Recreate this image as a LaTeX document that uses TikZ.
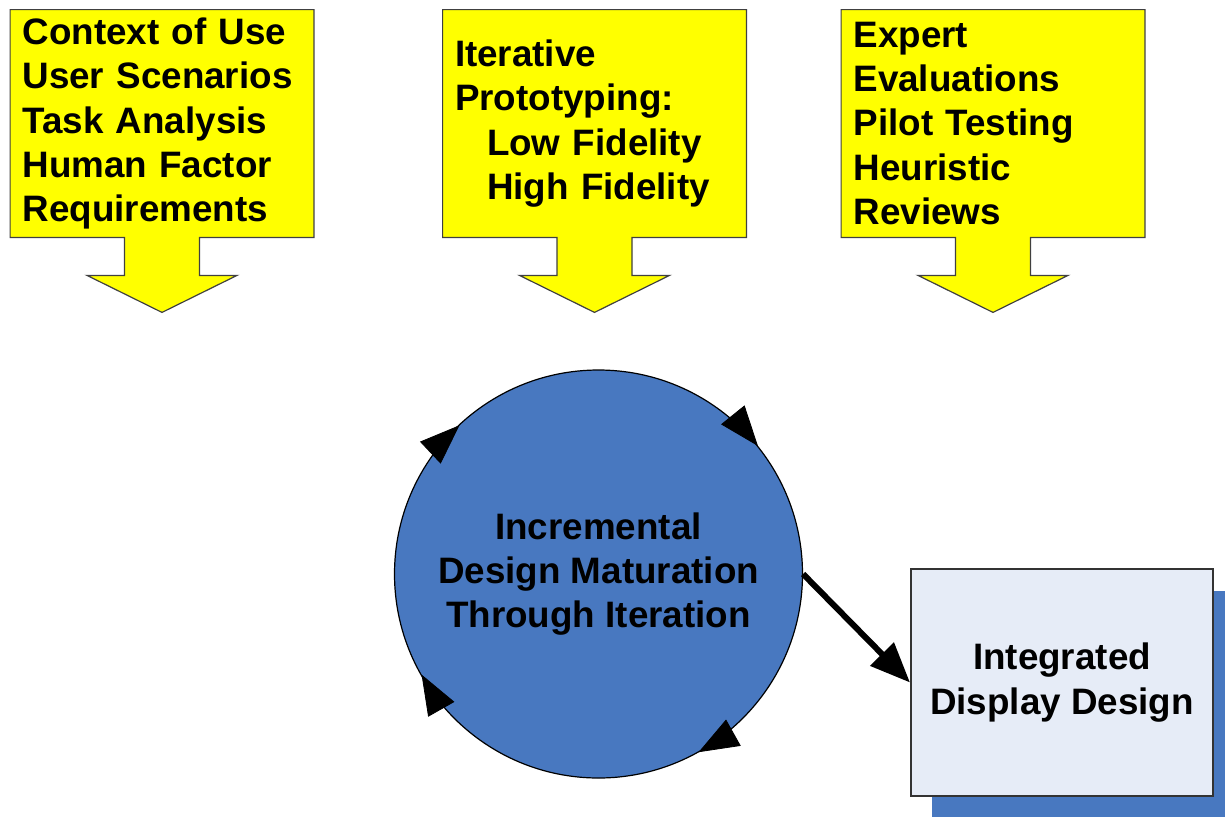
\documentclass[tikz,border=0pt]{standalone}
\usepackage{fontspec}
\setmainfont{Liberation Sans}
\usepackage{xcolor}
\usepackage{tikz}
\usetikzlibrary{arrows.meta, positioning, calc, backgrounds, decorations.markings}

\definecolor{callyellow}{RGB}{255,255,0}
\definecolor{cycleblue}{RGB}{72,120,192}
\definecolor{boxpale}{RGB}{230,236,247}

% yellow box with a fat arrow hanging from its bottom edge
\newcommand{\downbox}[1]{%
	\begin{scope}[on background layer]
		\draw[calloutline] (#1.north west) -- (#1.north east) -- (#1.south east)
			-- ($(#1.south)+(37.5,0)$) -- ++(0,38) -- ++(37.5,0)
			-- ($(#1.south)+(0,75)$) -- ($(#1.south)+(-75,38)$) -- ++(37.5,0)
			-- ($(#1.south)+(-37.5,0)$) -- (#1.south west) -- cycle;
	\end{scope}}

\begin{document}
\begin{tikzpicture}[x=0.5pt, y=-0.5pt,
		font=\bfseries\fontsize{18.4}{22.2}\selectfont,
		calloutline/.style={fill=callyellow, draw=black!75, line width=0.6pt},
		callbox/.style={text width=139.5pt, inner xsep=6pt, inner ysep=0pt, minimum height=113.5pt, align=left},
		cyc/.style={circle, fill=cycleblue, draw=black, line width=0.6pt, minimum size=204pt, inner sep=0pt, align=center},
		result/.style={fill=boxpale, draw=black!80, line width=1pt, minimum width=151pt, minimum height=113.5pt, align=center},
		cyctip/.tip={Triangle[length=20pt, width=15pt]},
		link/.style={line width=3pt, -{Triangle[length=20pt, width=16pt]}}]
			\useasboundingbox (0,0) rectangle (1225,816);
			\node[callbox] (b1) at (162,123.5) {Context of Use\\User Scenarios\\Task Analysis\\Human Factor\\Requirements};
			\node[callbox] (b2) at (594.5,123.5) {Iterative\\Prototyping:\\\hspace*{16pt}Low Fidelity\\\hspace*{16pt}High Fidelity};
			\node[callbox] (b3) at (993,123.5) {Expert\\Evaluations\\Pilot Testing\\Heuristic\\Reviews};
			\downbox{b1}
			\downbox{b2}
			\downbox{b3}
			\node[cyc] (c) at (598.5,574) {Incremental\\Design Maturation\\Through Iteration};
			\path[decorate, decoration={markings,
					mark=at position 0.169 with {\arrow{cyctip}},
					mark=at position 0.418 with {\arrow{cyctip}},
					mark=at position 0.630 with {\arrow{cyctip}},
					mark=at position 0.892 with {\arrow{cyctip}}}]
				(c.east) arc[start angle=360, end angle=0, radius=102pt];
			\node[result] (d) at (1062,682.5) {Integrated\\Display Design};
			\begin{scope}[on background layer]
				\clip (0,0) rectangle (1225,816);
				\fill[cycleblue] ($(d.north west)+(22,23)$) rectangle ($(d.south east)+(22,23)$);
			\end{scope}
			\draw[link] (c.east) -- (d.west);
		\end{tikzpicture}
\end{document}
